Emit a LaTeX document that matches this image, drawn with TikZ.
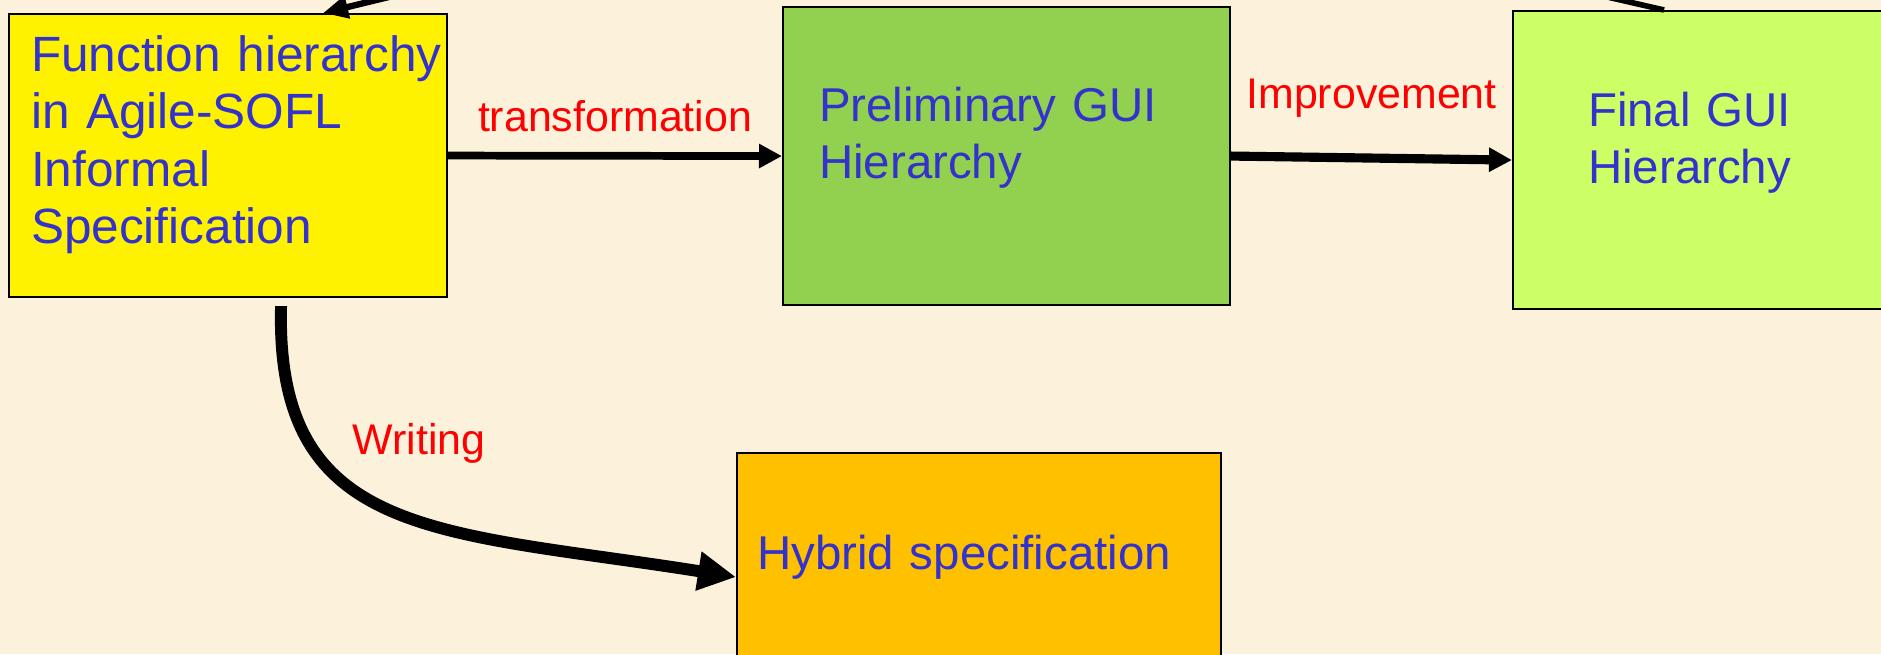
\documentclass[tikz,border=0pt]{standalone}
\usepackage{fontspec}
\setmainfont{Liberation Sans}
\usetikzlibrary{arrows.meta}
\definecolor{parchment}{RGB}{252,242,220}
\definecolor{boxblue}{RGB}{51,51,204}
\definecolor{prelimgreen}{RGB}{146,208,80}
\definecolor{finallime}{RGB}{204,255,102}
\definecolor{hybridorange}{RGB}{255,192,0}

\begin{document}
\begin{tikzpicture}
\tikzset{
    box/.style={draw=black, line width=0.6pt, anchor=north west, align=left,
        inner ysep=0pt, text=boxblue, font=\fontsize{13.5}{16.4}\selectfont},
    steplabel/.style={text=red, inner sep=0pt, text depth=0pt,
        font=\fontsize{12.2}{14}\selectfont},
    flow/.style={line width=2.2pt, -{Triangle[length=0.23cm,width=0.23cm]}}
}
\useasboundingbox (0,0) rectangle (18.81,6.54);
\fill[parchment] (0,0) rectangle (18.81,6.54);
\clip (0,0) rectangle (18.81,6.54);

\node[box, fill=yellow, inner xsep=0.22cm, text width=3.94cm, text height=0.57cm, text depth=2.26cm,
    font=\fontsize{14.1}{16.4}\selectfont]
    (informal) at (0.08,6.41) {\mbox{Function hierarchy}\\in Agile-SOFL\\Informal\\Specification};
\node[box, fill=prelimgreen, inner xsep=0.36cm, text width=3.75cm, text height=1.14cm, text depth=1.84cm]
    (prelim) at (7.82,6.48) {Preliminary GUI\\Hierarchy};
\node[box, fill=finallime, inner xsep=0.75cm, text width=3.0cm, text height=1.15cm, text depth=1.83cm]
    (final) at (15.12,6.44) {Final GUI\\Hierarchy};
\node[box, fill=hybridorange, inner xsep=0.20cm, text width=4.44cm, text height=1.16cm, text depth=1.32cm]
    (hybrid) at (7.36,2.02) {Hybrid specification};

\coordinate (offtop) at (4.38,6.69);
\coordinate (offright) at (15.77,6.64);

\draw[flow] (informal.east) -- node[steplabel, above=0.2cm] {transformation} (prelim.west);
\draw[flow, line width=2.6pt] (prelim.east) -- node[steplabel, above=0.45cm] {Improvement} (final.west);
\draw[line width=3.4pt, -{Triangle[length=0.38cm,width=0.37cm]}]
    ([xshift=0.53cm,yshift=-0.08cm]informal.south) .. controls (2.75,1.14) and (4.40,1.24) ..
    node[steplabel, pos=0.25, anchor=base west, xshift=0.39cm, yshift=-0.14cm] {Writing} (hybrid.west);
\draw[line width=1.8pt, -{Triangle[length=0.25cm,width=0.22cm]}] (offtop) -- ([xshift=0.95cm]informal.north);
\draw[line width=1.6pt] ([xshift=-0.74cm]final.north) -- (offright);
\end{tikzpicture}
\end{document}
